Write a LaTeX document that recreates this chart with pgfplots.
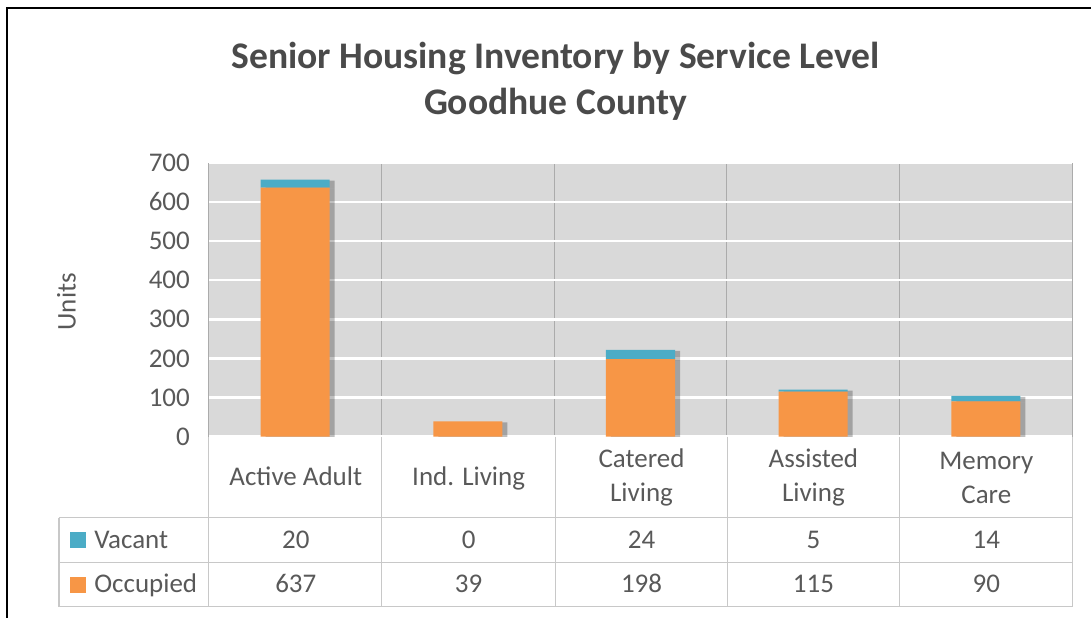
\documentclass[border=0pt]{standalone}
\usepackage{fontspec}
\setmainfont{Carlito}
\usepackage{pgfplots}
\usepackage{pgfplotstable}
\pgfplotsset{compat=1.18}
\usetikzlibrary{shadows}

\definecolor{occ}{HTML}{F79646}
\definecolor{vac}{HTML}{4BACC6}
\definecolor{plotbg}{HTML}{D9D9D9}
\definecolor{txt}{HTML}{595959}
\definecolor{ttl}{HTML}{4A4A4A}
\definecolor{tline}{HTML}{C8C8C8}
\definecolor{vgrid}{HTML}{ABABAB}

% Units per service level
\pgfplotstableread{
x occupied vacant
0 637 20
1 39 0
2 198 24
3 115 5
4 90 14
}\inventory

\begin{document}
\begin{tikzpicture}[font=\fontsize{13.5}{16}\selectfont, text=txt,
    oneline/.style={text height=1.6ex, text depth=0.4ex}]
% pixel frame: 1 px = 0.5pt, origin at the top left of the picture
\begin{scope}[xshift=-104.5pt, yshift=218.5pt, x=0.5pt, y=-0.5pt]
  \useasboundingbox (0,0) rectangle (1092,618);
\end{scope}

\begin{axis}[
    at={(0,0)}, anchor=south west,
    scale only axis, width=432pt, height=137pt,
    ybar stacked, bar width=0.4,
    xmin=-0.5, xmax=4.5, ymin=0, ymax=700,
    xtick={-0.5,0.5,...,4.5}, xticklabels={},
    ytick={0,100,...,700},
    major tick length=0pt,
    axis line style={draw=none},
    axis background/.style={fill=plotbg},
    xmajorgrids, ymajorgrids,
    major x grid style={vgrid, line width=0.5pt},
    major y grid style={white, line width=1.2pt},
    yticklabel style={text=txt, anchor=east, xshift=-6pt,
      font=\fontsize{13.5}{16}\selectfont},
    /pgf/number format/assume math mode=true,
  ]
  \addplot[fill=occ, draw=none,
    drop shadow={shadow xshift=2.5pt, shadow yshift=-0.5pt, opacity=0.25, fill=black}]
    table[x=x, y=occupied] {\inventory};
  \addplot[fill=vac, draw=none,
    drop shadow={shadow xshift=2.5pt, shadow yshift=-0.5pt, opacity=0.25, fill=black}]
    table[x=x, y=vacant] {\inventory};
\end{axis}

\begin{scope}[xshift=-104.5pt, yshift=218.5pt, x=0.5pt, y=-0.5pt]
  % outer frame
  \draw[black, line width=0.8pt] (7,618) -- (7,8) -- (1092,8);
  % title
  \node[font=\fontsize{18.8}{23}\selectfont\bfseries, text=ttl, align=center]
    at (556,81) {Senior Housing Inventory by Service Level\\Goodhue County};
  % axis label
  \node[rotate=90, oneline] at (70,302) {Units};
  % data table grid
  \draw[tline, line width=0.6pt]
    (59,518) -- (1073,518) (59,563) -- (1073,563) (59,607) -- (1073,607)
    (59,518) -- (59,607)
    (209,437) -- (209,607) (382,437) -- (382,607) (556,437) -- (556,607)
    (728,437) -- (728,607) (900,437) -- (900,607) (1073,437) -- (1073,607);
  % category labels
  \node[oneline] at (296,480) {Active Adult};
  \node[oneline] at (469,480) {Ind. Living};
  \node[align=center, font=\fontsize{13.5}{17}\selectfont] at (642,478) {Catered\\Living};
  \node[align=center, font=\fontsize{13.5}{17}\selectfont] at (814,478) {Assisted\\Living};
  \node[align=center, font=\fontsize{13.5}{17}\selectfont] at (987,478) {Memory\\Care};
  % row headers
  \fill[vac] (70,532) rectangle (86,548);
  \node[anchor=west, inner sep=0pt, oneline] at (94,543) {Vacant};
  \fill[occ] (70,577) rectangle (86,593);
  \node[anchor=west, inner sep=0pt, oneline] at (94,587) {Occupied};
  % values
  \foreach \cx/\v/\o in {296/20/637, 469/0/39, 642/24/198, 814/5/115, 987/14/90} {
    \node[oneline] at (\cx,543) {\v};
    \node[oneline] at (\cx,587) {\o};
  }
\end{scope}
\end{tikzpicture}
\end{document}
